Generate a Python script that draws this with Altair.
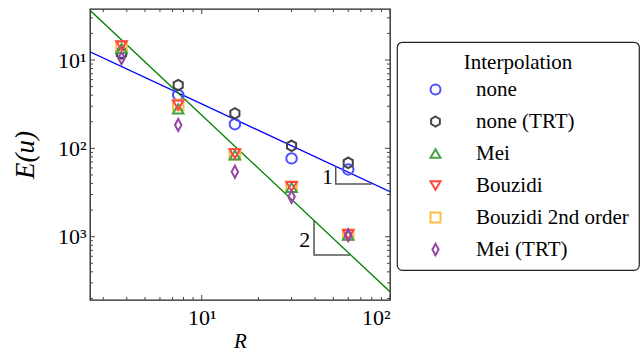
import altair as alt
import pandas as pd

FONT = "Liberation Serif"

# ---- data ----
R = [3.75, 7.5, 15, 30, 60]
series = ["none", "none (TRT)", "Mei", "Bouzidi", "Bouzidi 2nd order", "Mei (TRT)"]
E_none = [0.122, 0.0402, 0.0188, 0.0077, 0.00578]
E_none_trt = [0.118, 0.0521, 0.0249, 0.0107, 0.00687]
E_mei = [0.135, 0.028, 0.0084, 0.0036, 0.00104]
E_bouzidi = [0.145, 0.031, 0.0087, 0.0037, 0.00106]
E_bouzidi2 = [0.140, 0.031, 0.0086, 0.00367, 0.00105]
E_mei_trt = [0.105, 0.0184, 0.00543, 0.00283, 0.00104]

colors = ["#4d4dff", "#444444", "#44a044", "#ff4444", "#ffbb44", "#9944aa"]
hexagon = "M0,-1L0.866,-0.5L0.866,0.5L0,1L-0.866,0.5L-0.866,-0.5Z"
diamond = "M0,-1.15L0.62,0L0,1.15L-0.62,0Z"
shapes = ["circle", hexagon, "triangle-up", "triangle-down", "square", diamond]

# fitted guide lines (end points)
line_R = [2.55, 100]
line_slope1 = [0.124, 0.00323]
line_slope2 = [0.365, 0.000238]

# slope triangles
tri1_R = [51.5, 51.5, 80]
tri1_E = [0.0062, 0.00394, 0.00394]
tri2_R = [39.5, 39.5, 61.3]
tri2_E = [0.00152, 0.00062, 0.00062]
lab_R = [46.5, 35.2]
lab_E = [0.00477, 0.00091]
lab_text = ["1", "2"]

# axis ticks
x_major = [10, 100]
x_minor = [3, 4, 5, 6, 7, 8, 9, 20, 30, 40, 50, 60, 70, 80, 90]
y_major = [0.1, 0.01, 0.001]
y_minor = [2e-4, 3e-4, 4e-4, 5e-4, 6e-4, 7e-4, 8e-4, 9e-4,
           2e-3, 3e-3, 4e-3, 5e-3, 6e-3, 7e-3, 8e-3, 9e-3,
           2e-2, 3e-2, 4e-2, 5e-2, 6e-2, 7e-2, 8e-2, 9e-2, 0.2, 0.3]

XDOM = [2.55, 100]
YDOM = [1.92e-4, 0.378]
W, H = 300, 291

# ---- tables ----
order = ["none", "none (TRT)", "Bouzidi 2nd order", "Mei", "Bouzidi", "Mei (TRT)"]
vals = {"none": E_none, "none (TRT)": E_none_trt, "Mei": E_mei,
        "Bouzidi": E_bouzidi, "Bouzidi 2nd order": E_bouzidi2, "Mei (TRT)": E_mei_trt}
rows = []
for s in order:
    for r, e in zip(R, vals[s]):
        rows.append({"R": r, "E": e, "Interpolation": s})
pts = pd.DataFrame(rows)

line1 = pd.DataFrame({"R": line_R, "E": line_slope1})
line2 = pd.DataFrame({"R": line_R, "E": line_slope2})
tris = pd.DataFrame({"R": tri1_R + tri2_R, "E": tri1_E + tri2_E,
                     "g": ["a"] * 3 + ["b"] * 3, "o": [0, 1, 2, 0, 1, 2]})
labs = pd.DataFrame({"R": lab_R, "E": lab_E, "t": lab_text})

xaxis = alt.Axis(values=x_major, labelExpr="datum.value > 50 ? '10²' : '10¹'",
                 ticks=False, domain=False, grid=False, labelFont=FONT,
                 labelFontSize=22, labelPadding=7, labelColor="black",
                 title="R", titleFont=FONT, titleFontSize=21, titleFontStyle="italic",
                 titleFontWeight="normal", titleColor="black",
                 titleX=150, titleY=41, titleBaseline="middle", titleAlign="center")
yaxis = alt.Axis(values=y_major,
                 labelExpr="datum.value > 0.05 ? '10¹' : (datum.value > 0.005 ? '10²' : '10³')",
                 ticks=False, domain=False, grid=False, labelFont=FONT,
                 labelFontSize=22, labelPadding=4, labelColor="black",
                 title="E(u)", titleFont=FONT, titleFontSize=27, titleFontStyle="italic",
                 titleFontWeight="normal", titleColor="black",
                 titleX=-65, titleY=145.5, titleAngle=270, titleBaseline="middle",
                 titleAlign="center")


def X(f="R"):
    return alt.X(f"{f}:Q", scale=alt.Scale(type="log", domain=XDOM, nice=False), axis=xaxis)


def Y(f="E"):
    return alt.Y(f"{f}:Q", scale=alt.Scale(type="log", domain=YDOM, nice=False), axis=yaxis)


l1_layer = alt.Chart(line1).mark_line(clip=True, strokeWidth=1.3, color="#0000ff").encode(
    x=X(), y=Y())
l2_layer = alt.Chart(line2).mark_line(clip=True, strokeWidth=1.3, color="#008000").encode(
    x=X(), y=Y())

tri_layer = alt.Chart(tris).mark_line(color="#555555", strokeWidth=1.5).encode(
    x=X(), y=Y(), detail="g:N", order="o:Q")

lab_layer = alt.Chart(labs).mark_text(font=FONT, fontSize=22, color="black").encode(
    x=X(), y=Y(), text="t:N")

pt_layer = alt.Chart(pts).mark_point(filled=False, size=110, strokeWidth=2, opacity=1).encode(
    x=X(), y=Y(),
    color=alt.Color("Interpolation:N", scale=alt.Scale(domain=series, range=colors),
                    legend=alt.Legend(title="Interpolation")),
    shape=alt.Shape("Interpolation:N", scale=alt.Scale(domain=series, range=shapes),
                    legend=alt.Legend(title="Interpolation")),
)

tick_color = "#444444"
xt_bottom_major = alt.Chart(pd.DataFrame({"R": x_major})).mark_rule(color=tick_color).encode(
    x=X(), y=alt.value(H), y2=alt.value(H - 5))
xt_bottom_minor = alt.Chart(pd.DataFrame({"R": x_minor})).mark_rule(color=tick_color).encode(
    x=X(), y=alt.value(H), y2=alt.value(H - 3))
xt_top_major = alt.Chart(pd.DataFrame({"R": x_major})).mark_rule(color=tick_color).encode(
    x=X(), y=alt.value(0), y2=alt.value(5))
xt_top_minor = alt.Chart(pd.DataFrame({"R": x_minor})).mark_rule(color=tick_color).encode(
    x=X(), y=alt.value(0), y2=alt.value(3))
yt_left_major = alt.Chart(pd.DataFrame({"E": y_major})).mark_rule(color=tick_color).encode(
    y=Y(), x=alt.value(0), x2=alt.value(5))
yt_left_minor = alt.Chart(pd.DataFrame({"E": y_minor})).mark_rule(color=tick_color).encode(
    y=Y(), x=alt.value(0), x2=alt.value(3))
yt_right_major = alt.Chart(pd.DataFrame({"E": y_major})).mark_rule(color=tick_color).encode(
    y=Y(), x=alt.value(W), x2=alt.value(W - 5))
yt_right_minor = alt.Chart(pd.DataFrame({"E": y_minor})).mark_rule(color=tick_color).encode(
    y=Y(), x=alt.value(W), x2=alt.value(W - 3))

chart = alt.layer(
    xt_bottom_major, xt_bottom_minor, xt_top_major, xt_top_minor,
    yt_left_major, yt_left_minor, yt_right_major, yt_right_minor,
    l1_layer, l2_layer, tri_layer, lab_layer, pt_layer,
).properties(
    width=W, height=H,
    autosize=alt.AutoSizeParams(type="none"),
    padding={"left": 90, "top": 9, "right": 254, "bottom": 54},
    background="white",
).configure_view(
    stroke="#222222", strokeWidth=1.3
).configure_legend(
    orient="none", legendX=307, legendY=33,
    strokeColor="#222222", strokeWidth=1.2, cornerRadius=5, fillColor="white",
    padding=10, titleFont=FONT, titleFontSize=21, titleFontWeight="normal",
    titleColor="black", titleAnchor="middle", titlePadding=6,
    labelFont=FONT, labelFontSize=21, labelColor="black", labelOffset=30,
    symbolOffset=18, symbolSize=100, symbolStrokeWidth=2, rowPadding=10,
)

chart.save("out.html", embed_options={"renderer": "svg", "actions": False})
